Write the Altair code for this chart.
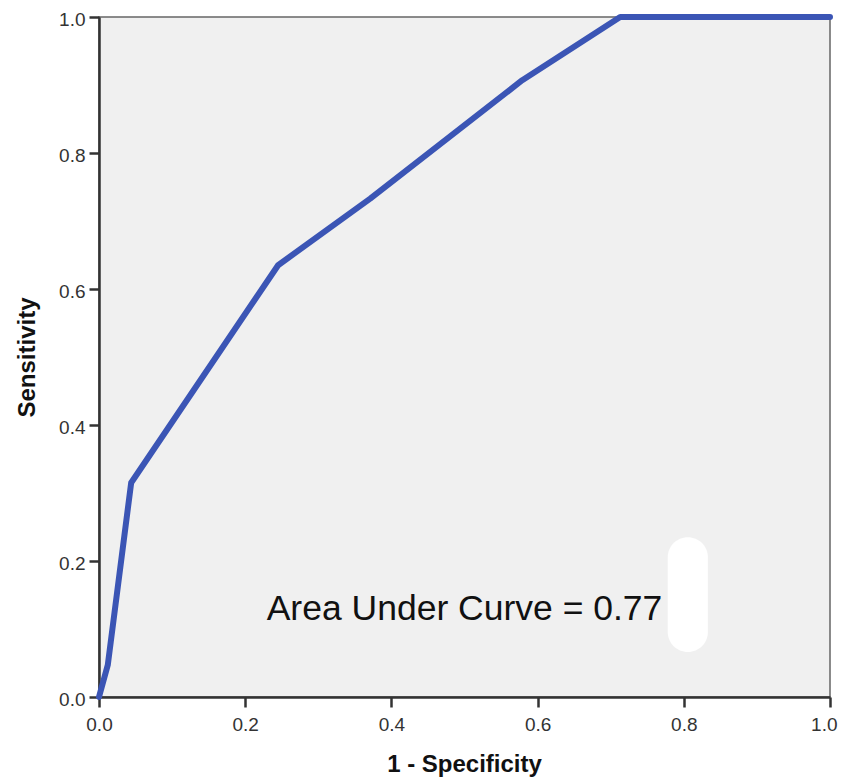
import altair as alt
import pandas as pd

# ROC curve points
fpr = [0.0, 0.012, 0.044, 0.245, 0.371, 0.579, 0.713, 1.0]
tpr = [0.0, 0.047, 0.315, 0.635, 0.733, 0.907, 1.0, 1.0]

tick_values = [0.0, 0.2, 0.4, 0.6, 0.8, 1.0]
annotation = ["Area Under Curve = 0.77"]
ann_x = [0.5]
ann_y = [0.113]

# white smudge in the original picture
blob_x = [0.778]
blob_x2 = [0.833]
blob_y = [0.066]
blob_y2 = [0.235]

FONT = "Liberation Sans"

roc = pd.DataFrame({"fpr": fpr, "tpr": tpr, "i": list(range(len(fpr)))})
ann = pd.DataFrame({"label": annotation, "x": ann_x, "y": ann_y})
blob = pd.DataFrame({"x": blob_x, "x2": blob_x2, "y": blob_y, "y2": blob_y2})

xscale = alt.Scale(domain=[0, 1], nice=False, zero=False)
yscale = alt.Scale(domain=[0, 1], nice=False, zero=False)

xaxis = alt.Axis(
    values=tick_values, format=".1f", grid=False, labelFlush=False,
    title="1 - Specificity", titleFont=FONT, titleFontSize=24, titleFontWeight="bold",
    titleColor="#111", titleX=365, titleY=67, titleBaseline="middle", titleAnchor="start",
    titleAlign="center",
    labelFont=FONT, labelFontSize=19, labelColor="#333", labelPadding=8,
    labelAlign={"expr": "datum.value == 1 ? 'right' : 'center'"},
    labelOffset={"expr": "datum.value == 1 ? 7 : 0"},
    tickSize=10, tickColor="#333", tickWidth=2.5,
    domainColor="#333", domainWidth=2.5,
)
yaxis = alt.Axis(
    values=tick_values, format=".1f", grid=False, labelFlush=False,
    title="Sensitivity", titleFont=FONT, titleFontSize=24, titleFontWeight="bold",
    titleColor="#111", titleX=-72, titleY=340, titleBaseline="middle", titleAngle=-90,
    titleAlign="center",
    labelFont=FONT, labelFontSize=19, labelColor="#333", labelPadding=4,
    labelBaseline="alphabetic", labelOffset=8,
    tickSize=10, tickColor="#333", tickWidth=2.5,
    domainColor="#333", domainWidth=2.5,
)

blob_layer = alt.Chart(blob).mark_rect(
    color="white", cornerRadius=20, opacity=0.95
).encode(
    x=alt.X("x:Q", scale=xscale, axis=xaxis),
    x2="x2:Q",
    y=alt.Y("y:Q", scale=yscale, axis=yaxis),
    y2="y2:Q",
)

line = alt.Chart(roc).mark_line(
    color="#3b55b5", strokeWidth=6, strokeJoin="round", strokeCap="round", clip=False
).encode(
    x=alt.X("fpr:Q", scale=xscale, axis=xaxis),
    y=alt.Y("tpr:Q", scale=yscale, axis=yaxis),
    order="i:Q",
)

text = alt.Chart(ann).mark_text(
    font=FONT, fontSize=35.5, color="#111", align="center", baseline="alphabetic"
).encode(
    x=alt.X("x:Q", scale=xscale, axis=xaxis),
    y=alt.Y("y:Q", scale=yscale, axis=yaxis),
    text="label:N",
)

chart = alt.layer(blob_layer, line, text).properties(
    width=731,
    height=680,
    autosize="none",
    padding={"left": 91, "top": 9, "right": 8, "bottom": 82},
).configure_view(
    fill="#f0f0f0", stroke="#666", strokeWidth=1.5
)

chart.save("out.html", embed_options={"renderer": "svg", "actions": False})
